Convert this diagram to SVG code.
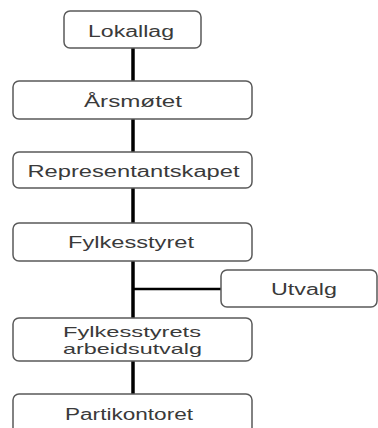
<svg xmlns="http://www.w3.org/2000/svg" width="378" height="428" viewBox="0 0 378 428">
<style>
.box{fill:#fff;stroke:#5a5a5a;stroke-width:1.5}
.t{font-family:"Liberation Sans",Arial,sans-serif;font-size:16px;fill:#3a3a3a;text-anchor:middle}
.s{font-size:15px}
.c{stroke:#000;fill:none}
</style>
<rect width="378" height="428" fill="#fff"/>
<g id="connectors">
<line class="c" x1="133" y1="48" x2="133" y2="394" stroke-width="3.5"/>
<line class="c" x1="133" y1="289" x2="221" y2="289" stroke-width="2.5"/>
</g>
<g id="lokallag"><rect class="box" x="64" y="11" width="137" height="37" rx="6"/><text class="t" x="131" y="37" textLength="86" lengthAdjust="spacingAndGlyphs">Lokallag</text></g>
<g id="arsmotet"><rect class="box" x="13" y="81" width="239" height="38" rx="6"/><text class="t" x="133" y="107" textLength="98" lengthAdjust="spacingAndGlyphs">Årsmøtet</text></g>
<g id="representantskapet"><rect class="box" x="13" y="152" width="239" height="36" rx="6"/><text class="t" x="133.5" y="177" textLength="212" lengthAdjust="spacingAndGlyphs">Representantskapet</text></g>
<g id="fylkesstyret"><rect class="box" x="13" y="223" width="239" height="38" rx="6"/><text class="t" x="131" y="248" textLength="126" lengthAdjust="spacingAndGlyphs">Fylkesstyret</text></g>
<g id="utvalg"><rect class="box" x="221" y="270" width="156" height="37" rx="6"/><text class="t" x="304" y="295" textLength="66" lengthAdjust="spacingAndGlyphs">Utvalg</text></g>
<g id="arbeidsutvalg"><rect class="box" x="13" y="318" width="239" height="43" rx="6"/><text class="t s" x="132" y="337" textLength="138" lengthAdjust="spacingAndGlyphs">Fylkesstyrets</text><text class="t s" x="132.5" y="354" textLength="139" lengthAdjust="spacingAndGlyphs">arbeidsutvalg</text></g>
<g id="partikontoret"><rect class="box" x="13" y="394" width="239" height="40" rx="6"/><text class="t" x="129" y="420" textLength="128" lengthAdjust="spacingAndGlyphs">Partikontoret</text></g>
</svg>
